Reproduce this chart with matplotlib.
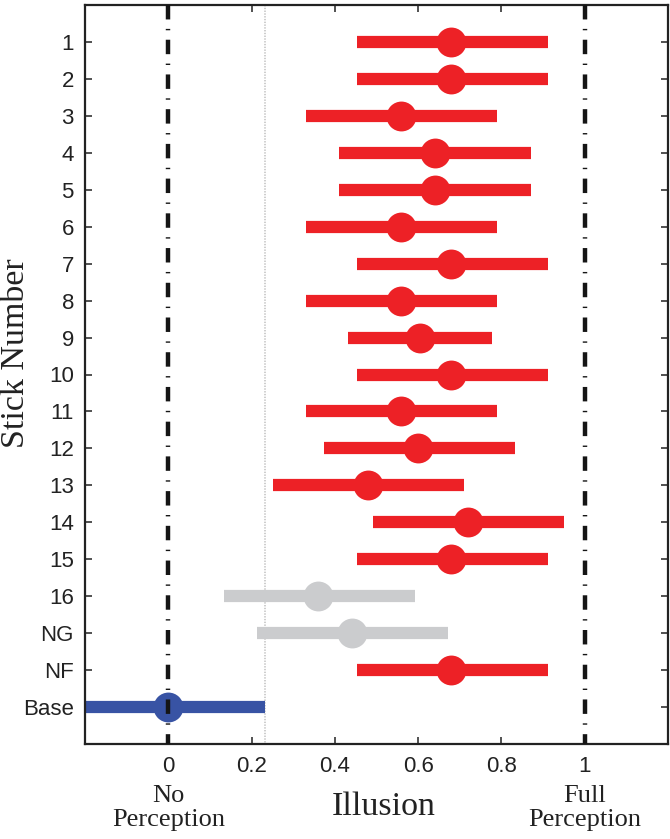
import matplotlib
matplotlib.use("Agg")
import matplotlib.pyplot as plt
import matplotlib.transforms as mtransforms

# Data
labels = ["1", "2", "3", "4", "5", "6", "7", "8", "9", "10", "11", "12",
          "13", "14", "15", "16", "NG", "NF", "Base"]
means = [0.68, 0.68, 0.56, 0.64, 0.64, 0.56, 0.68, 0.56, 0.605, 0.68, 0.56,
         0.60, 0.48, 0.72, 0.68, 0.36, 0.44, 0.68, 0.0]
lower = [0.453, 0.453, 0.330, 0.410, 0.410, 0.330, 0.453, 0.330, 0.432, 0.453,
         0.330, 0.373, 0.251, 0.491, 0.453, 0.133, 0.212, 0.453, -0.232]
upper = [0.912, 0.912, 0.789, 0.870, 0.870, 0.789, 0.912, 0.789, 0.778, 0.912,
         0.789, 0.832, 0.710, 0.950, 0.912, 0.592, 0.672, 0.912, 0.232]
groups = ["sig"] * 15 + ["ns", "ns", "sig", "base"]
xticks = [0, 0.2, 0.4, 0.6, 0.8, 1]
xticklabels = ["0", "0.2", "0.4", "0.6", "0.8", "1"]
chance_line = 0.232

colors = {"sig": "#ED2126", "ns": "#CBCCCE", "base": "#3853A4"}

plt.rcParams['lines.scale_dashes'] = False
sans = ["Liberation Sans", "DejaVu Sans"]
serif = ["Liberation Serif", "DejaVu Serif"]

fig = plt.figure(figsize=(6.7, 8.39), dpi=100)
ax = fig.add_axes([85/670, 1 - 744/839, (668-85)/670, (744-5)/839])

ypos = list(range(1, len(labels) + 1))

# chance line
ax.plot([chance_line, chance_line], [0, 20], color="#c0c0c0", lw=1.1,
        linestyle=(0, (1.0, 1.0)), zorder=1)

for y, m, lo, hi, g in zip(ypos, means, lower, upper, groups):
    c = colors[g]
    ax.plot([lo, hi], [y, y], color=c, lw=8.8, solid_capstyle="butt", zorder=2)
    ax.plot([m], [y], marker="o", markersize=21.5, color=c,
            markeredgewidth=0, zorder=3)

# reference dash-dot lines
for xv in (0, 1):
    ax.plot([xv, xv], [0, 20], color="#151515", lw=3.2,
            linestyle=(0, (10.4, 6.8, 1.0, 6.8)), solid_capstyle="butt",
            dash_capstyle="butt", zorder=5)

ax.set_xlim(-0.2, 1.2)
ax.set_ylim(20, 0)
ax.set_yticks(ypos)
ax.set_yticklabels(labels, fontfamily=sans, fontsize=16)
ax.set_xticks(xticks)
ax.set_xticklabels(xticklabels, fontfamily=sans, fontsize=16)
ax.tick_params(axis="both", direction="in", length=5.2, width=1.1,
               top=True, right=True, colors="#222222")
ax.tick_params(axis="x", pad=8.5)
ax.tick_params(axis="y", pad=8)
for s in ax.spines.values():
    s.set_linewidth(1.6)
    s.set_color("#222222")

trans = mtransforms.blended_transform_factory(ax.transData, fig.transFigure)
ax.text(0, 1 - 808/839, "No\nPerception", transform=trans, ha="center",
        va="center", fontfamily=serif, fontsize=19, linespacing=1.15,
        color="#222222")
ax.text(1, 1 - 808/839, "Full\nPerception", transform=trans, ha="center",
        va="center", fontfamily=serif, fontsize=19, linespacing=1.15,
        color="#222222")
ax.text(0.517, 1 - 807/839, "Illusion", transform=trans, ha="center",
        va="center", fontfamily=serif, fontsize=24.5, color="#222222")
fig.text(16/670, 1 - 353/839, "Stick Number", rotation=90, ha="center",
         va="center", fontfamily=serif, fontsize=24.5, color="#222222")

fig.savefig("out.png", dpi=100)
